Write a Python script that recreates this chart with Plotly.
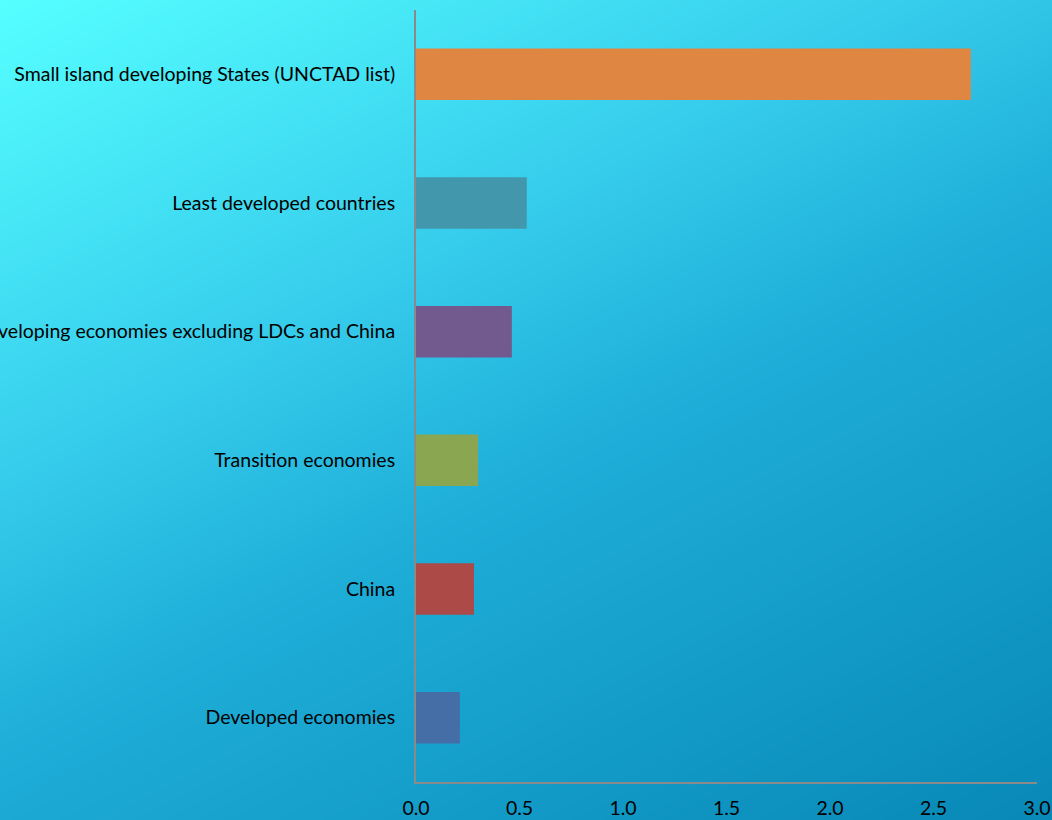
import numpy as np
import plotly.graph_objects as go

categories = [
    "Small island developing States (UNCTAD list)",
    "Least developed countries",
    "Developing economies excluding LDCs and China",
    "Transition economies",
    "China",
    "Developed economies",
]
values = [2.68, 0.535, 0.463, 0.30, 0.28, 0.212]
bar_colors = ["#DF8642", "#4397AD", "#725A8E", "#8AA650", "#AC4A47", "#466EA6"]
x_ticks = [0.0, 0.5, 1.0, 1.5, 2.0, 2.5, 3.0]
x_tick_labels = ["0.0", "0.5", "1.0", "1.5", "2.0", "2.5", "3.0"]

W, H = 1052, 820
font_family = "Lato, 'Open Sans', sans-serif"
fsize = 19.5

# background gradient (decorative)
nx, ny = 60, 48
gx = np.linspace(0, 1, nx)
gy = np.linspace(0, 1, ny)  # 0 = top
GX, GY = np.meshgrid(gx, gy)
grad = 0.4 * GX + 0.6 * GY

fig = go.Figure()
fig.add_trace(go.Heatmap(
    z=grad, x=gx, y=gy, zsmooth="best", showscale=False, hoverinfo="skip",
    colorscale=[[0, "#55FFFF"], [0.35, "#36CCEC"], [0.55, "#1EAED8"], [1, "#0888B6"]],
    zmin=0, zmax=1, xaxis="x", yaxis="y",
))

fig.add_trace(go.Bar(
    x=values, y=categories, orientation="h", marker=dict(color=bar_colors, line=dict(width=0)),
    width=0.4, xaxis="x2", yaxis="y2", showlegend=False,
))

fig.update_layout(
    width=W, height=H,
    margin=dict(l=0, r=0, t=0, b=0, pad=0),
    paper_bgcolor="#1EAED8",
    plot_bgcolor="rgba(0,0,0,0)",
    font=dict(family=font_family, size=fsize, color="#000000"),
    showlegend=False,
    xaxis=dict(domain=[0, 1], range=[0, 1], visible=False, fixedrange=True, automargin=False),
    yaxis=dict(domain=[0, 1], range=[1, 0], visible=False, fixedrange=True, automargin=False),
    xaxis2=dict(
        domain=[416 / W, 1037 / W], range=[0, 3.0], anchor="y2", automargin=False,
        tickvals=x_ticks, ticktext=x_tick_labels, showgrid=False, zeroline=False,
        showline=True, linecolor="#8A8A8A", linewidth=2, ticks="",
        ticklabelstandoff=8, tickfont=dict(size=fsize, family=font_family),
    ),
    yaxis2=dict(
        domain=[1 - 782 / H, 1 - 10 / H], anchor="x2", automargin=False,
        categoryorder="array", categoryarray=categories[::-1],
        showgrid=False, zeroline=False, showline=True, linecolor="#8A8A8A", linewidth=2,
        ticks="", ticklabelstandoff=15, tickfont=dict(size=fsize, family=font_family),
    ),
)

fig.write_html("out.html")
